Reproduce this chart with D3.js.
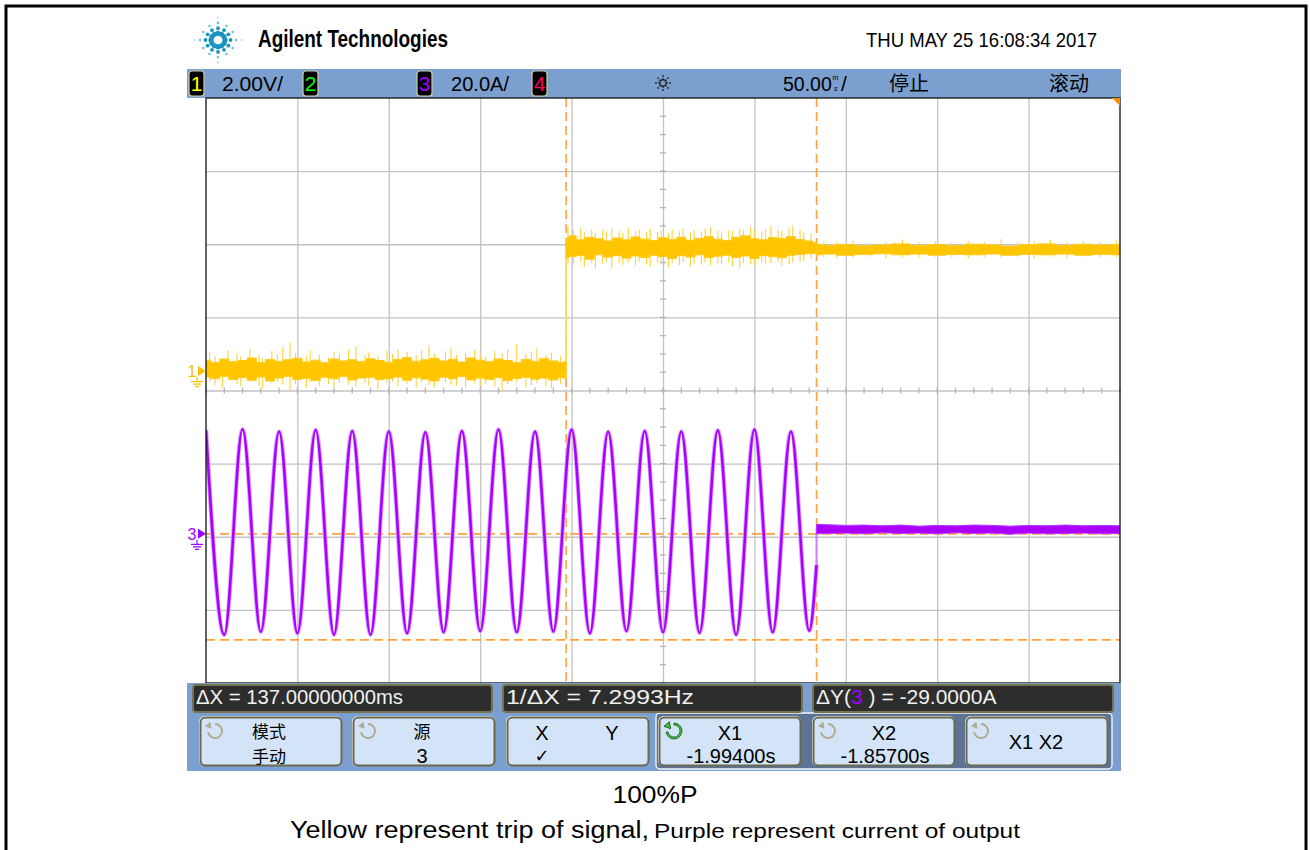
<!DOCTYPE html>
<html>
<head>
<meta charset="utf-8">
<script src="https://cdn.jsdelivr.net/npm/d3@7/dist/d3.min.js"></script>
<style>
  body { margin: 0; background: #fff; }
  svg { display: block; }
  text { font-family: "Liberation Sans", Arial, sans-serif; }
</style>
</head>
<body>
<svg></svg>
<script>
// ---- scope settings ----
const timeRef = -1.941;          // s at screen centre
const timeDiv = 50;              // ms / div
const ch1Scale = 2.0;            // V / div
const ch3Scale = 20.0;           // A / div
const ch1Pos = 0.265;            // ground position, div above centre
const ch3Pos = -1.96;
const cursorX = [-1.994, -1.857]; // s
const cursorY = [0, -29];         // A (channel 3)

// ---- channel 3 (purple): half-cycle extremes [ms, A] ----
const ch3Extremes = [
  [-250, 28.4], [-240, -27.6], [-230, 28.6], [-220, -26.8], [-210, 28.0], [-200, -27.2],
  [-190, 28.4], [-180, -27.6], [-170, 28.1], [-160, -27.6], [-150, 28.0], [-140, -27.2],
  [-130, 27.8], [-120, -26.9], [-110, 28.1], [-100, -26.6], [-90, 28.5], [-80, -26.9],
  [-70, 28.0], [-60, -26.7], [-50, 28.5], [-40, -27.2], [-30, 27.9], [-20, -26.6],
  [-10, 28.1], [0, -26.9], [10, 28.0], [20, -27.1], [30, 28.3], [40, -27.6],
  [50, 28.5], [60, -26.9], [70, 28.0], [80, -26.5], [84, -8.5]
];
// after trip: envelope [ms, high A, low A]
const ch3Off = [
  [84, 2.6, 0.0], [90, 2.5, 0.1], [100, 2.3, 0.2], [110, 2.4, 0.0], [120, 2.2, 0.3],
  [130, 2.4, 0.1], [140, 2.1, 0.2], [150, 2.3, 0.0], [160, 2.2, 0.3], [170, 2.4, 0.1],
  [180, 2.3, 0.2], [190, 2.1, -0.1], [200, 2.3, 0.2], [210, 2.2, 0.0], [220, 2.4, 0.1],
  [230, 2.2, 0.2], [240, 2.3, 0.0], [250, 2.2, 0.1]
];

// ---- channel 1 (yellow): core noise band [ms, high V, low V] ----
const ch1Low = [
  [-250, 0.30, -0.16], [-245, 0.24, -0.21], [-240, 0.33, -0.14], [-235, 0.26, -0.23],
  [-230, 0.29, -0.18], [-225, 0.36, -0.25], [-220, 0.24, -0.16], [-215, 0.32, -0.27],
  [-210, 0.27, -0.19], [-205, 0.31, -0.15], [-200, 0.35, -0.23], [-195, 0.25, -0.20],
  [-190, 0.30, -0.26], [-185, 0.23, -0.17], [-180, 0.33, -0.21], [-175, 0.28, -0.15],
  [-170, 0.31, -0.24], [-165, 0.26, -0.19], [-160, 0.34, -0.17], [-155, 0.29, -0.23],
  [-150, 0.24, -0.20], [-145, 0.32, -0.16], [-140, 0.37, -0.25], [-135, 0.27, -0.18],
  [-130, 0.31, -0.22], [-125, 0.35, -0.27], [-120, 0.28, -0.17], [-115, 0.32, -0.21],
  [-110, 0.25, -0.15], [-105, 0.36, -0.24], [-100, 0.30, -0.19], [-95, 0.26, -0.23],
  [-90, 0.33, -0.18], [-85, 0.29, -0.26], [-80, 0.23, -0.20], [-75, 0.32, -0.17],
  [-70, 0.27, -0.22], [-65, 0.34, -0.19], [-60, 0.28, -0.24], [-55, 0.24, -0.18],
  [-53, 0.26, -0.20]
];
const ch1High = [
  [-53, 3.64, 3.10], [-50, 3.70, 3.13], [-45, 3.59, 3.16], [-40, 3.66, 3.06], [-35, 3.62, 3.18],
  [-30, 3.56, 3.12], [-25, 3.64, 3.16], [-20, 3.59, 3.09], [-15, 3.67, 3.15], [-10, 3.61, 3.11],
  [-5, 3.57, 3.17], [0, 3.65, 3.13], [5, 3.60, 3.08], [10, 3.66, 3.16], [15, 3.58, 3.12],
  [20, 3.63, 3.18], [25, 3.68, 3.10], [30, 3.61, 3.14], [35, 3.57, 3.17], [40, 3.66, 3.11],
  [45, 3.70, 3.15], [50, 3.62, 3.08], [55, 3.59, 3.16], [60, 3.65, 3.13], [65, 3.63, 3.10],
  [70, 3.68, 3.17], [75, 3.60, 3.19], [80, 3.56, 3.21], [84, 3.52, 3.22]
];
const ch1After = [
  [84, 3.47, 3.18], [90, 3.44, 3.20], [100, 3.46, 3.17], [110, 3.43, 3.19], [120, 3.45, 3.21],
  [130, 3.48, 3.18], [140, 3.44, 3.20], [150, 3.46, 3.17], [160, 3.43, 3.19], [170, 3.47, 3.18],
  [180, 3.45, 3.20], [190, 3.42, 3.17], [200, 3.46, 3.19], [210, 3.48, 3.18], [220, 3.44, 3.20],
  [230, 3.47, 3.17], [240, 3.45, 3.19], [250, 3.46, 3.18]
];
// noise spikes [ms, high V, low V]
const ch1Spikes = [
  [-248, 0.52, -0.30], [-245, 0.40, -0.38], [-241, 0.30, -0.45], [-238, 0.58, -0.20],
  [-233, 0.48, -0.35], [-231, 0.40, -0.42], [-226, 0.62, -0.28], [-221, 0.44, -0.40],
  [-219, 0.35, -0.47], [-214, 0.55, -0.33], [-211, 0.47, -0.30], [-208, 0.66, -0.38],
  [-204, 0.78, -0.52], [-201, 0.50, -0.36], [-195, 0.42, -0.44], [-193, 0.57, -0.30],
  [-188, 0.45, -0.40], [-183, 0.38, -0.35], [-180, 0.53, -0.43], [-177, 0.46, -0.31],
  [-172, 0.60, -0.37], [-168, 0.68, -0.42], [-163, 0.44, -0.33], [-161, 0.50, -0.39],
  [-156, 0.41, -0.50], [-151, 0.56, -0.34], [-148, 0.47, -0.29], [-145, 0.59, -0.41],
  [-140, 0.52, -0.36], [-135, 0.43, -0.45], [-132, 0.57, -0.32], [-128, 0.70, -0.38],
  [-125, 0.48, -0.43], [-119, 0.54, -0.30], [-116, 0.62, -0.37], [-113, 0.45, -0.40],
  [-108, 0.51, -0.46], [-103, 0.58, -0.33], [-100, 0.46, -0.39], [-97, 0.40, -0.35],
  [-92, 0.55, -0.42], [-88, 0.49, -0.54], [-85, 0.60, -0.36], [-80, 0.74, -0.31],
  [-75, 0.47, -0.44], [-72, 0.53, -0.38], [-69, 0.61, -0.33], [-64, 0.45, -0.41],
  [-61, 0.50, -0.48], [-56, 0.42, -0.35],
  [-52, 3.95, 2.95], [-49, 3.85, 2.90], [-45, 3.92, 3.00], [-43, 3.80, 2.85], [-39, 3.88, 2.96],
  [-37, 3.78, 2.80], [-33, 3.86, 2.93], [-31, 3.82, 2.99], [-28, 3.90, 2.82], [-24, 3.84, 2.95],
  [-22, 3.79, 2.90], [-19, 3.93, 2.97], [-15, 3.83, 2.88], [-13, 3.87, 3.00], [-9, 3.81, 2.92],
  [-7, 3.89, 2.86], [-3, 3.80, 2.98], [-1, 3.85, 2.91], [3, 3.78, 2.84], [5, 3.88, 2.96],
  [9, 3.83, 2.90], [11, 3.91, 2.99], [15, 3.80, 2.86], [17, 3.86, 2.94], [21, 3.82, 2.91],
  [23, 3.90, 2.97], [26, 3.94, 2.89], [30, 3.84, 2.95], [32, 3.79, 2.92], [36, 3.87, 2.98],
  [38, 3.83, 2.87], [42, 3.90, 2.83], [44, 3.85, 2.96], [48, 3.96, 2.93], [50, 3.88, 2.90],
  [54, 3.82, 2.97], [56, 3.89, 2.92], [59, 3.97, 2.95], [63, 3.86, 2.99], [65, 3.84, 2.88],
  [69, 3.91, 2.93], [71, 3.98, 2.97], [75, 3.87, 3.00], [77, 3.80, 3.02], [81, 3.76, 3.06],
  [88, 3.55, 3.12], [95, 3.53, 3.10], [104, 3.56, 3.11], [113, 3.52, 3.13], [122, 3.54, 3.09],
  [131, 3.60, 3.12], [140, 3.53, 3.10], [149, 3.55, 3.13], [158, 3.52, 3.11], [167, 3.56, 3.09],
  [176, 3.54, 3.12], [185, 3.61, 3.10], [194, 3.53, 3.13], [203, 3.55, 3.08], [212, 3.59, 3.12],
  [221, 3.54, 3.10], [230, 3.56, 3.13], [239, 3.53, 3.11], [248, 3.57, 3.10]
];

// ---- labels ----
const headerDate = "THU MAY 25 16:08:34 2017";
const measLabels = ["\u0394X = 137.00000000ms", "1/\u0394X = 7.2993Hz"];
const dyValue = " ) = -29.0000A";
const captionTop = "100%P";
const captionA = "Yellow represent trip of signal,";
const captionB = "Purple represent  current of output";

// ---- layout ----
const W = 1310, H = 850;
const plot = { x: 206, y: 98, w: 914, h: 585 };

const svg = d3.select("svg").attr("width", W).attr("height", H);

svg.append("rect").attr("x", 6).attr("y", 6).attr("width", 1300).attr("height", 870)
  .attr("fill", "#fff").attr("stroke", "#000").attr("stroke-width", 3);

const x = d3.scaleLinear().domain([-5 * timeDiv, 5 * timeDiv]).range([plot.x, plot.x + plot.w]);
const yDiv = d3.scaleLinear().domain([-4, 4]).range([plot.y + plot.h, plot.y]);
const y1 = d3.scaleLinear().domain([(-4 - ch1Pos) * ch1Scale, (4 - ch1Pos) * ch1Scale]).range(yDiv.range());
const y3 = d3.scaleLinear().domain([(-4 - ch3Pos) * ch3Scale, (4 - ch3Pos) * ch3Scale]).range(yDiv.range());
const tx = t => x((t - timeRef) * 1000);

// ---- logo + header ----
const logo = svg.append("g").attr("transform", "translate(218,40)");
d3.range(0, 360, 30).forEach(a => {
  const long = a % 90 === 0;
  const rs = long ? [7, 12.5, 18, 23.5] : [7, 12, 17];
  const sz = [2.6, 1.9, 1.3, 0.8];
  rs.forEach((r, i) => {
    const rad = a * Math.PI / 180;
    logo.append("circle")
      .attr("cx", r * Math.cos(rad)).attr("cy", r * Math.sin(rad) * 0.95)
      .attr("r", sz[i]).attr("fill", i < 2 ? "#1b94c4" : "#6fbfe0");
  });
});
svg.append("text").attr("x", 258).attr("y", 47).attr("font-size", 23).attr("font-weight", "bold")
  .attr("textLength", 190).attr("lengthAdjust", "spacingAndGlyphs").text("Agilent Technologies");
svg.append("text").attr("x", 866).attr("y", 47).attr("font-size", 21)
  .attr("textLength", 231).attr("lengthAdjust", "spacingAndGlyphs").text(headerDate);

// ---- top status bar ----
svg.append("rect").attr("x", 187).attr("y", 69).attr("width", 934).attr("height", 29).attr("fill", "#7b9fce");
const chBoxes = [
  { n: "1", x: 189, c: "#ffff00" }, { n: "2", x: 303, c: "#00ff00" },
  { n: "3", x: 417, c: "#a000ff" }, { n: "4", x: 532, c: "#ff0066" }
];
chBoxes.forEach(b => {
  svg.append("rect").attr("x", b.x).attr("y", 71).attr("width", 15).attr("height", 25).attr("rx", 3)
    .attr("fill", "#000").attr("stroke", "#cfc9a8").attr("stroke-width", 1.2);
  svg.append("text").attr("x", b.x + 7.5).attr("y", 91).attr("text-anchor", "middle")
    .attr("font-size", 21).attr("fill", b.c).text(b.n);
});
const barText = (s, x0, w) => svg.append("text").attr("x", x0).attr("y", 91).attr("font-size", 21)
  .attr("textLength", w).attr("lengthAdjust", "spacingAndGlyphs").text(s);
barText("2.00V/", 222, 61);
barText("20.0A/", 451, 58);
svg.append("text").attr("x", 783).attr("y", 91).attr("font-size", 19.5).text("50.00");
// stacked "m over s" unit
svg.append("text").attr("x", 832.5).attr("y", 80).attr("font-size", 7).text("m");
svg.append("text").attr("x", 834).attr("y", 90.5).attr("font-size", 7).text("s");
svg.append("text").attr("x", 841).attr("y", 91).attr("font-size", 21).text("/");
svg.append("text").attr("x", 889).attr("y", 91).attr("font-size", 20)
  .style("font-family", "'Noto Sans CJK SC'").text("停止");
svg.append("text").attr("x", 1049).attr("y", 91).attr("font-size", 20)
  .style("font-family", "'Noto Sans CJK SC'").text("滚动");
// trigger spark icon
const spark = svg.append("g").attr("transform", "translate(663,83)");
d3.range(0, 360, 45).forEach(a => {
  const rad = a * Math.PI / 180;
  [3.5, 7].forEach((r, i) => spark.append("circle").attr("cx", r * Math.cos(rad)).attr("cy", r * Math.sin(rad))
    .attr("r", i ? 0.9 : 1.2).attr("fill", "#222"));
});

// ---- plot area + grid ----
svg.append("rect").attr("x", plot.x).attr("y", plot.y).attr("width", plot.w).attr("height", plot.h)
  .attr("fill", "#fff");
const gx = svg.append("g").attr("transform", `translate(0,${plot.y + plot.h})`)
  .call(d3.axisBottom(x).tickValues(d3.range(-200, 201, 50)).tickSize(-plot.h).tickFormat(""));
const gy = svg.append("g").attr("transform", `translate(${plot.x},0)`)
  .call(d3.axisLeft(yDiv).tickValues(d3.range(-3, 4)).tickSize(-plot.w).tickFormat(""));
[gx, gy].forEach(g => {
  g.select(".domain").remove();
  g.selectAll(".tick line").attr("stroke", "#c3c3c3").attr("stroke-width", 1.3);
});
// minor ticks on centre lines
const minor = svg.append("g").attr("stroke", "#b0b0b0").attr("stroke-width", 1.2);
d3.range(-250, 251, 10).forEach(t => minor.append("line")
  .attr("x1", x(t)).attr("x2", x(t)).attr("y1", yDiv(0) - 3).attr("y2", yDiv(0) + 3));
d3.range(-4, 4.01, 0.25).forEach(d => minor.append("line")
  .attr("x1", x(0) - 3).attr("x2", x(0) + 3).attr("y1", yDiv(d)).attr("y2", yDiv(d)));

svg.append("clipPath").attr("id", "clip").append("rect")
  .attr("x", plot.x).attr("y", plot.y).attr("width", plot.w).attr("height", plot.h);
const traces = svg.append("g").attr("clip-path", "url(#clip)");

// ---- cursors ----
const curColor = "#ffa13d";
cursorX.forEach(c => traces.append("line").attr("x1", tx(c)).attr("x2", tx(c))
  .attr("y1", plot.y).attr("y2", plot.y + plot.h)
  .attr("stroke", curColor).attr("stroke-width", 1.6).attr("stroke-dasharray", "9,5"));
cursorY.forEach(c => traces.append("line").attr("x1", plot.x).attr("x2", plot.x + plot.w)
  .attr("y1", y3(c)).attr("y2", y3(c))
  .attr("stroke", curColor).attr("stroke-width", 1.6).attr("stroke-dasharray", "9,5"));

// ---- channel 1 trace ----
const band1 = d3.area().x(d => x(d[0])).y0(d => y1(d[2])).y1(d => y1(d[1])).curve(d3.curveStep);
const yellow = "#ffc600";
traces.append("line").attr("x1", x(-53)).attr("x2", x(-53))
  .attr("y1", y1(0.0)).attr("y2", y1(3.4)).attr("stroke", "#ffd95c").attr("stroke-width", 2);
traces.append("g").selectAll("line").data(ch1Spikes).join("line")
  .attr("x1", d => x(d[0])).attr("x2", d => x(d[0]))
  .attr("y1", d => y1(d[1])).attr("y2", d => y1(d[2]))
  .attr("stroke", "#ffd23c").attr("stroke-width", 1.1);
[ch1Low, ch1High, ch1After].forEach(seg => traces.append("path").datum(seg)
  .attr("d", band1).attr("fill", yellow).attr("stroke", "#ffcb1a").attr("stroke-width", 1));

// ---- channel 3 trace ----
const purple = "#a900ff";
const line3 = d3.line().x(d => x(d[0])).y(d => y3(d[1])).curve(d3.curveMonotoneX);
traces.append("path").datum(ch3Extremes).attr("d", line3)
  .attr("fill", "none").attr("stroke", "#dba6ff").attr("stroke-width", 4.5);
traces.append("path").datum(ch3Extremes).attr("d", line3)
  .attr("fill", "none").attr("stroke", purple).attr("stroke-width", 2.6);
traces.append("line").attr("x1", x(84)).attr("x2", x(84))
  .attr("y1", y3(-8.5)).attr("y2", y3(1.5)).attr("stroke", "#cf80ff").attr("stroke-width", 2);
traces.append("path").datum(ch3Off)
  .attr("d", d3.area().x(d => x(d[0])).y0(d => y3(d[2])).y1(d => y3(d[1])))
  .attr("fill", purple).attr("stroke", "#b833ff").attr("stroke-width", 1);

// plot frame + corner marker
svg.append("rect").attr("x", plot.x).attr("y", plot.y).attr("width", plot.w).attr("height", plot.h)
  .attr("fill", "none").attr("stroke", "#111").attr("stroke-width", 1.3);
svg.append("path").attr("d", `M${plot.x + plot.w - 8},${plot.y}L${plot.x + plot.w},${plot.y}L${plot.x + plot.w},${plot.y + 8}Z`)
  .attr("fill", "#ff8c00");

// ---- channel ground markers ----
function marker(label, yv, color) {
  const g = svg.append("g").attr("fill", color).attr("stroke", color);
  g.append("text").attr("x", 192).attr("y", yv + 6).attr("text-anchor", "middle")
    .attr("font-size", 16).attr("stroke", "none").text(label);
  g.append("path").attr("d", `M198,${yv - 5}L206,${yv}L198,${yv + 5}Z`).attr("stroke", "none");
  g.append("path").attr("fill", "none").attr("stroke-width", 1.2)
    .attr("d", `M197,${yv + 6}V${yv + 10}M191,${yv + 10.5}H203M193,${yv + 13}H201M195,${yv + 15.5}H199`);
}
marker("1", y1(0), "#f7c200");
marker("3", y3(0), "#a000ff");

// ---- bottom panel ----
svg.append("rect").attr("x", 187).attr("y", 683).attr("width", 934).attr("height", 88).attr("fill", "#7b9fce");
svg.append("rect").attr("x", 656).attr("y", 713).attr("width", 456).attr("height", 56).attr("rx", 4)
  .attr("fill", "#5d7394").attr("stroke", "#f4f6fa").attr("stroke-width", 1.4);

const measBoxes = [{ x: 193, w: 299 }, { x: 503, w: 299 }, { x: 813, w: 300 }];
measBoxes.forEach(b => {
  svg.append("rect").attr("x", b.x).attr("y", 685).attr("width", b.w).attr("height", 27).attr("rx", 3)
    .attr("fill", "#2d2d2d").attr("stroke", "#77734f").attr("stroke-width", 2);
});
const measText = (s, x0, w) => svg.append("text").attr("x", x0).attr("y", 704).attr("font-size", 21)
  .attr("fill", "#f0f0f0").attr("textLength", w).attr("lengthAdjust", "spacingAndGlyphs").text(s);
measText(measLabels[0], 196, 207);
measText(measLabels[1], 506, 188);
const dy = svg.append("text").attr("x", 816).attr("y", 704).attr("font-size", 21).attr("fill", "#f0f0f0");
dy.append("tspan").text("\u0394Y(");
dy.append("tspan").attr("fill", "#a000ff").text("3");
dy.append("tspan").text(dyValue);

const keys = [
  { x: 200, l1: "模式", l2: "手动", cjk1: true, cjk2: true },
  { x: 353, l1: "源", l2: "3", cjk1: true },
  { x: 507, xy: true },
  { x: 659, l1: "X1", l2: "-1.99400s", active: true },
  { x: 813, l1: "X2", l2: "-1.85700s" },
  { x: 966, one: "X1 X2" }
];
const ring = d3.arc().innerRadius(6).outerRadius(8).startAngle(0).endAngle(Math.PI * 1.45);
const cjkFont = "'Noto Sans CJK SC'";
keys.forEach(k => {
  const g = svg.append("g").attr("transform", `translate(${k.x},717)`);
  g.append("rect").attr("x", -1).attr("y", -1).attr("width", 143).attr("height", 50).attr("rx", 6)
    .attr("fill", "#fff");
  g.append("rect").attr("x", 0.5).attr("y", 0.5).attr("width", 141).attr("height", 48).attr("rx", 5)
    .attr("fill", "#d3e4f8").attr("stroke", "#6b6850").attr("stroke-width", 2);
  if (!k.xy) {
    const ic = g.append("g").attr("transform", "translate(15,14)");
    const col = k.active ? "#3ccc3c" : "#b0ab90";
    ic.append("path").attr("d", ring()).attr("fill", col)
      .attr("stroke", k.active ? "#1a4a1a" : "none").attr("stroke-width", 0.8);
    ic.append("path").attr("d", "M-11,-1L-4,-1L-7.5,-7Z").attr("fill", col)
      .attr("stroke", k.active ? "#1a4a1a" : "none").attr("stroke-width", 0.8)
      .attr("transform", "rotate(20)");
  }
  if (k.l1) {
    const t1 = g.append("text").attr("text-anchor", "middle").text(k.l1);
    if (k.cjk1) t1.attr("x", 69).attr("y", 21).attr("font-size", 17).style("font-family", cjkFont);
    else t1.attr("x", 71).attr("y", 23).attr("font-size", 20);
    const t2 = g.append("text").attr("text-anchor", "middle").text(k.l2);
    if (k.cjk2) t2.attr("x", 69).attr("y", 46).attr("font-size", 17).style("font-family", cjkFont);
    else t2.attr("x", k.cjk1 ? 69 : 72).attr("y", 46).attr("font-size", 20);
  }
  if (k.xy) {
    g.append("text").attr("x", 35).attr("y", 23).attr("text-anchor", "middle").attr("font-size", 20).text("X");
    g.append("text").attr("x", 105).attr("y", 23).attr("text-anchor", "middle").attr("font-size", 20).text("Y");
    g.append("text").attr("x", 35).attr("y", 45).attr("text-anchor", "middle").attr("font-size", 18)
      .style("font-family", "'DejaVu Sans'").text("\u2713");
  }
  if (k.one) {
    g.append("text").attr("x", 70).attr("y", 32).attr("text-anchor", "middle").attr("font-size", 20).text(k.one);
  }
});

// ---- caption ----
svg.append("text").attr("x", 655).attr("y", 803).attr("text-anchor", "middle").attr("font-size", 23)
  .attr("textLength", 85).attr("lengthAdjust", "spacingAndGlyphs").text(captionTop);
svg.append("text").attr("x", 290).attr("y", 838).attr("font-size", 23)
  .attr("textLength", 359).attr("lengthAdjust", "spacingAndGlyphs").text(captionA);
svg.append("text").attr("x", 654).attr("y", 838).attr("font-size", 20)
  .attr("textLength", 366).attr("lengthAdjust", "spacingAndGlyphs").text(captionB);
</script>
</body>
</html>
